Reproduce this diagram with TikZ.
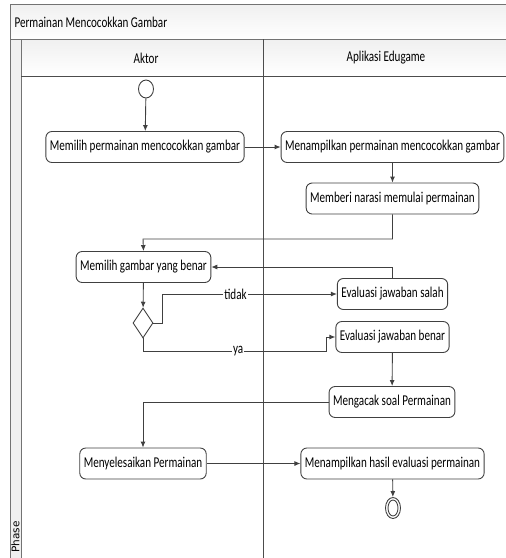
\documentclass[tikz,border=0pt]{standalone}
\usepackage{fontspec}
\setmainfont{Carlito}[FakeStretch=0.74]
\newfontfamily\phasefont{DejaVu Sans}
\usetikzlibrary{arrows.meta,positioning,shapes.geometric}

\begin{document}
\begin{tikzpicture}[
  x=1pt, y=-1pt,
  act/.style={draw=black!75, line width=0.9pt, rounded corners=6pt, fill=white, minimum height=31pt, inner xsep=4pt, font=\fontsize{15}{17}\selectfont},
  lbl/.style={fill=white, inner sep=1pt, font=\fontsize{15}{17}\selectfont},
  head/.style={font=\fontsize{15}{17}\selectfont},
  flow/.style={draw=black!75, line width=0.9pt, -{Latex[length=6pt,width=5pt]}},
  lane/.style={draw=black!55, line width=1pt},
  >=Latex
]
\clip (0,0) rectangle (506,558);

% swimlane frame
\fill[top color=black!6, bottom color=white] (10,4) rectangle (520,39);
\fill[top color=black!6, bottom color=white] (21,39) rectangle (520,76);
\fill[black!6] (10,39) rectangle (21,560);
\draw[lane] (10,560) -- (10,4) -- (520,4);
\draw[lane] (10,39) -- (520,39);
\draw[lane] (21,39) -- (21,560);
\draw[lane, draw=black!70] (21,76) -- (520,76);
\draw[lane, draw=black!70] (263,39) -- (263,560);
\node[head, anchor=west] (title) at (11,22) {Permainan Mencocokkan Gambar};
\node[head] (aktor) at (146,58) {Aktor};
\node[head] (app) at (386,58) {Aplikasi Edugame};
\node[rotate=90, anchor=west, font=\phasefont\fontsize{10.5}{12}\selectfont] (phase) at (15.5,556) {Phase};

% actions
\node[draw=black!75, line width=0.9pt, ellipse, minimum width=15pt, minimum height=18pt, inner sep=0pt] (start) at (146,89) {};
\node[act] (pilihgame) at (145,147) {Memilih permainan mencocokkan gambar};
\node[act] (tampilgame) at (392.5,147) {Menampilkan permainan mencocokkan gambar};
\node[act] (narasi) at (392.5,198.5) {Memberi narasi memulai permainan};
\node[act] (pilihgbr) at (143.5,267) {Memilih gambar yang benar};
\node[draw=black!75, line width=0.9pt, diamond, minimum width=20pt, minimum height=30pt, inner sep=0pt] (cek) at (143,323) {};
\node[act] (salah) at (392.5,294) {Evaluasi jawaban salah};
\node[act] (benar) at (392.5,337) {Evaluasi jawaban benar};
\node[act] (acak) at (392,402) {Mengacak soal Permainan};
\node[act] (selesai) at (143,463.5) {Menyelesaikan Permainan};
\node[act] (hasil) at (392.5,463.5) {Menampilkan hasil evaluasi permainan};
\node[draw=black!75, line width=0.9pt, ellipse, minimum width=15pt, minimum height=21pt, inner sep=0pt] (stop) at (393,508) {};
\node[draw=black!75, line width=0.9pt, ellipse, minimum width=10pt, minimum height=16pt, inner sep=0pt] (stopin) at (stop) {};

% flows
\draw[flow] (start) -- (pilihgame);
\draw[flow] (pilihgame) -- (tampilgame);
\draw[flow] (tampilgame) -- (narasi);
\draw[flow] (narasi.south) |- (143,239) -- (pilihgbr.north);
\draw[flow] (salah.north) |- (pilihgbr.east);
\draw[flow] (pilihgbr) -- (cek);
\draw[flow] (cek.east) -- (162,323) |- node[lbl, pos=0.71] {tidak} (salah.west);
\draw[flow] (cek.south) |- node[lbl, pos=0.76] {ya} (326,351) |- (benar.west);
\draw[flow] (benar) -- (acak);
\draw[flow] (acak.west) -| (selesai.north);
\draw[flow] (selesai) -- (hasil);
\draw[flow] (hasil) -- (stop);
\end{tikzpicture}
\end{document}
